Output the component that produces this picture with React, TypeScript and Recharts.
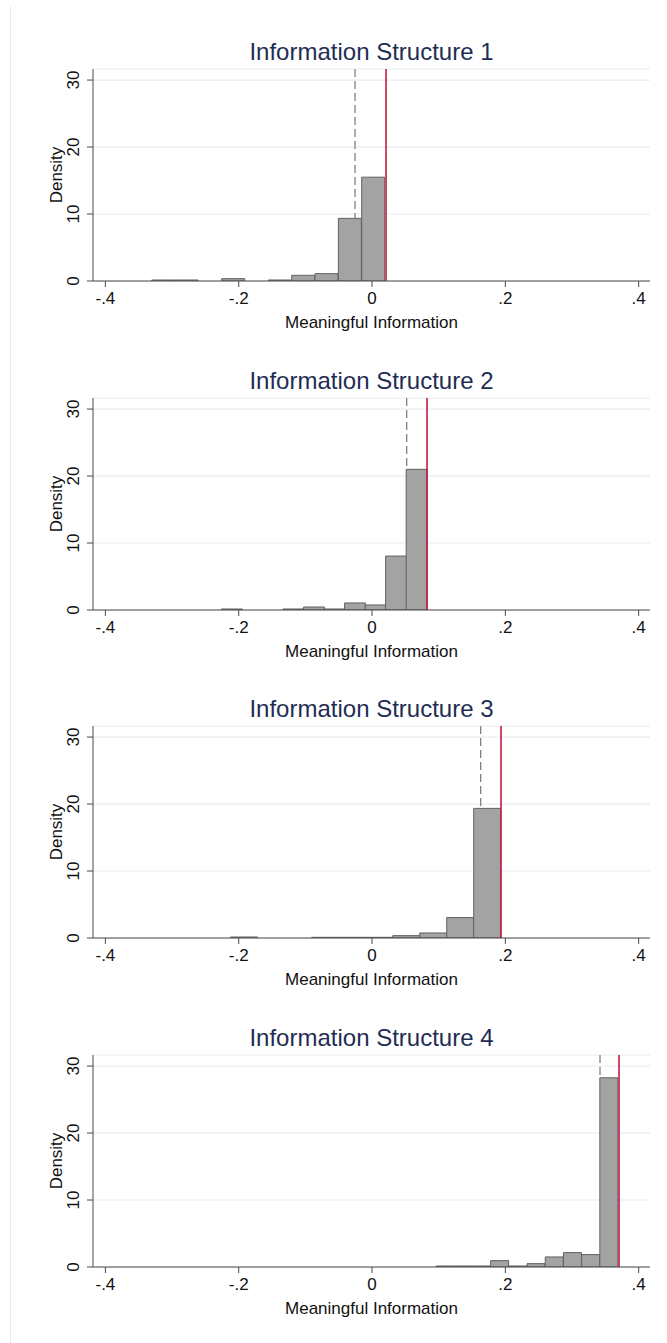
import { ComposedChart, Bar, XAxis, YAxis, CartesianGrid, ReferenceLine } from 'recharts'

// --- Data ---

const xTicks = [-0.4, -0.2, 0, 0.2, 0.4]
const yTicks = [0, 10, 20, 30]
const panelTitles = [
  'Information Structure 1',
  'Information Structure 2',
  'Information Structure 3',
  'Information Structure 4',
]

// bin midpoints and histogram densities, one pair per panel
const bins1 = [-0.313, -0.278, -0.243, -0.208, -0.173, -0.138, -0.103, -0.068, -0.033, 0.002]
const density1 = [0.15, 0.15, 0, 0.35, 0, 0.15, 0.85, 1.1, 9.35, 15.5]

const bins2 = [-0.2106, -0.1798, -0.149, -0.1182, -0.0874, -0.0566, -0.0258, 0.005, 0.0358, 0.0666]
const density2 = [0.15, 0, 0, 0.15, 0.45, 0.15, 1.05, 0.75, 8.05, 21.0]

const bins3 = [-0.1918, -0.1513, -0.1108, -0.0703, -0.0298, 0.0108, 0.0513, 0.0918, 0.1323, 0.1728]
const density3 = [0.15, 0, 0, 0.1, 0.1, 0.1, 0.35, 0.75, 3.05, 19.35]

const bins4 = [0.1097, 0.137, 0.1643, 0.1916, 0.2189, 0.2462, 0.2735, 0.3008, 0.3281, 0.3554]
const density4 = [0.15, 0.15, 0.15, 0.95, 0.15, 0.5, 1.5, 2.15, 1.85, 28.25]

// dashed grey line (mean) and solid red line (max), per panel
const meanLines = [-0.0255, 0.052, 0.163, 0.342]
const maxLines = [0.021, 0.0825, 0.1935, 0.3705]

// --- Styling ---

const FONT = '"Liberation Sans", Arial, Helvetica, sans-serif'
const TITLE = '#1f2d54'
const GRID = '#e4edf1'
const AXIS = '#4a4a4a'
const BAR = '#a3a3a3'
const BAR_EDGE = '#616161'
const RED = '#c81a40'
const DASH = '#808080'

const CHART_W = 667
const CHART_H = 345
const PANEL_STEP = 328.7
const Y_MAX = 31.65

const fmtTick = (v: number) => String(v).replace(/^(-?)0\./, '$1.')

const YTick = (props: any) => {
  const { x, y, payload } = props
  const bx = x - 6
  return (
    <text
      x={bx}
      y={y}
      transform={`rotate(-90 ${bx} ${y})`}
      textAnchor="middle"
      fontSize={17}
      fontFamily={FONT}
      fill="#111"
    >
      {payload.value}
    </text>
  )
}

type PanelProps = {
  title: string
  bins: number[]
  density: number[]
  mean: number
  max: number
  top: number
}

const Panel = ({ title, bins, density, mean, max, top }: PanelProps) => {
  const rows = bins.map((x, i) => ({ x, density: density[i] }))

  // the dashed mean line sits behind the bars, so it only shows above the bar it falls in
  const binWidth = bins[1] - bins[0]
  const hit = bins.findIndex(b => Math.abs(b - mean) <= binWidth / 2)
  const underMean = hit >= 0 ? density[hit] : 0

  return (
    <div style={{ position: 'absolute', left: 0, top, width: CHART_W, height: CHART_H }}>
      <div
        style={{
          position: 'absolute',
          left: 93,
          width: 557,
          top: 38,
          lineHeight: '28px',
          textAlign: 'center',
          fontFamily: FONT,
          fontSize: 24,
          color: TITLE,
        }}
      >
        {title}
      </div>
      <ComposedChart
        width={CHART_W}
        height={CHART_H}
        data={rows}
        margin={{ top: 69, right: 17, bottom: 4, left: 0 }}
        barCategoryGap={0}
        barGap={0}
      >
        <CartesianGrid vertical={false} stroke={GRID} strokeWidth={1.2} />
        <XAxis
          dataKey="x"
          type="number"
          domain={[-0.4186, 0.417]}
          ticks={xTicks}
          interval={0}
          allowDataOverflow
          tickFormatter={fmtTick}
          tickSize={6}
          tickMargin={5}
          height={60}
          stroke={AXIS}
          tick={{ fill: '#111', fontSize: 17, fontFamily: FONT }}
          label={{
            value: 'Meaningful Information',
            position: 'insideBottom',
            offset: 13,
            fill: '#111',
            fontSize: 17,
            fontFamily: FONT,
          }}
        />
        <YAxis
          type="number"
          domain={[0, Y_MAX]}
          ticks={yTicks}
          interval={0}
          allowDataOverflow
          width={93}
          tickSize={6}
          tickMargin={2}
          stroke={AXIS}
          tick={<YTick />}
          label={{
            value: 'Density',
            angle: -90,
            position: 'insideLeft',
            offset: 56,
            style: { textAnchor: 'middle' },
            fill: '#111',
            fontSize: 17,
            fontFamily: FONT,
          }}
        />
        <ReferenceLine
          segment={[
            { x: mean, y: Y_MAX },
            { x: mean, y: underMean },
          ]}
          stroke={DASH}
          strokeWidth={1.3}
          strokeDasharray="8 4"
        />
        <Bar
          dataKey="density"
          fill={BAR}
          stroke={BAR_EDGE}
          strokeWidth={1}
          isAnimationActive={false}
        />
        <ReferenceLine x={max} stroke={RED} strokeWidth={1.6} />
      </ComposedChart>
    </div>
  )
}

export default function App() {
  const allBins = [bins1, bins2, bins3, bins4]
  const allDensity = [density1, density2, density3, density4]
  return (
    <div
      style={{
        position: 'absolute',
        left: 0,
        top: 0,
        width: 667,
        height: 1343,
        background: '#fff',
        overflow: 'hidden',
      }}
    >
      {/* faint page border on the left */}
      <div
        style={{
          position: 'absolute',
          left: 10,
          top: 6,
          width: 1,
          height: 1337,
          background: '#e3ecef',
        }}
      />
      {panelTitles.map((t, i) => (
        <Panel
          key={t}
          title={t}
          bins={allBins[i]}
          density={allDensity[i]}
          mean={meanLines[i]}
          max={maxLines[i]}
          top={i * PANEL_STEP}
        />
      ))}
    </div>
  )
}
